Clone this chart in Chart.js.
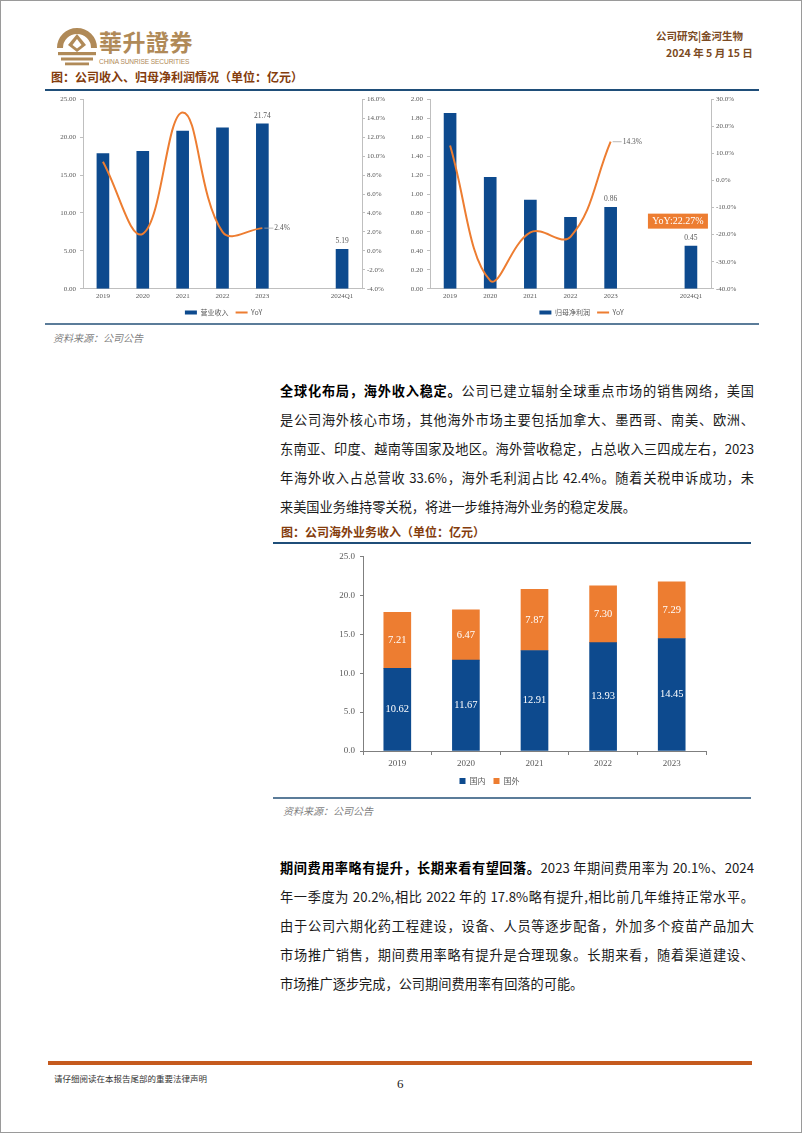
<!DOCTYPE html>
<html>
<head>
<meta charset="utf-8">
<script src="https://cdn.jsdelivr.net/npm/chart.js@4.4.1/dist/chart.umd.min.js"></script>
<style>
  html,body{margin:0;padding:0;background:#fff;}
  body{width:802px;height:1133px;position:relative;overflow:hidden;box-sizing:border-box;border:1px solid #9a9a9a;font-family:"Noto Sans CJK SC","Noto Sans",sans-serif;}
  .abs{position:absolute;}
  .hdr{color:#7b4a22;font-weight:bold;font-size:10.5px;white-space:nowrap;}
  .ttl{color:#843c0c;font-weight:bold;font-size:12px;white-space:nowrap;}
  .bline{height:2px;background:#1f4e79;}
  .gline{height:2px;background:#5b7c99;}
  .src{color:#7f7f7f;font-style:italic;font-size:10px;white-space:nowrap;}
  .para{width:474px;font-size:13.2px;line-height:29px;color:#1a1a1a;}
  .para div{text-align:justify;text-align-last:justify;height:29px;white-space:nowrap;}
  .para div.last{text-align-last:left;}
  .para b{font-weight:bold;color:#000;}
  .chartbox{position:absolute;}
</style>
</head>
<body>
<!-- header logo -->
<svg class="abs" style="left:54px;top:20px" width="44" height="46" viewBox="0 0 44 46">
  <path d="M5,27 A17,17 0 1 1 39,27" fill="none" stroke="#b08a58" stroke-width="6"/>
  <path d="M22,13 L31,24 L22,31 L13,24 Z" fill="#b08a58"/>
  <path d="M22,18 L26.5,24 L22,27.5 L17.5,24 Z" fill="#fff"/>
  <rect x="3" y="31" width="38" height="3.2" fill="#b08a58"/>
  <rect x="6" y="36.5" width="32" height="3" fill="#b08a58"/>
  <rect x="10" y="41.5" width="24" height="2.8" fill="#b08a58"/>
</svg>
<div class="abs" style="left:98px;top:25px;color:#b08a58;font-family:'Noto Sans CJK TC';font-weight:bold;font-size:23px;letter-spacing:0.5px;white-space:nowrap;line-height:30px;">華升證券</div>
<div class="abs" style="left:98px;top:57px;color:#b08a58;font-family:'Liberation Sans';font-size:6.6px;white-space:nowrap;letter-spacing:-0.1px;">CHINA SUNRISE SECURITIES</div>
<div class="abs hdr" style="left:655px;top:27px;">公司研究|金河生物</div>
<div class="abs hdr" style="left:665px;top:44px;">2024 年 5 月 15 日</div>

<div class="abs ttl" style="left:50px;top:67px;">图：公司收入、归母净利润情况（单位：亿元）</div>
<div class="abs bline" style="left:44px;top:88px;width:714px;"></div>

<div class="chartbox" style="left:45px;top:90px;width:355px;height:235px;"><canvas id="c1" width="355" height="235"></canvas></div>
<div class="chartbox" style="left:404px;top:90px;width:353px;height:235px;"><canvas id="c2" width="353" height="235"></canvas></div>

<div class="abs gline" style="left:44px;top:322px;width:714px;"></div>
<div class="abs src" style="left:52px;top:329px;">资料来源：公司公告</div>

<div class="abs para" style="left:279px;top:374.5px;">
  <div><b>全球化布局，海外收入稳定。</b>公司已建立辐射全球重点市场的销售网络，美国</div>
  <div>是公司海外核心市场，其他海外市场主要包括加拿大、墨西哥、南美、欧洲、</div>
  <div>东南亚、印度、越南等国家及地区。海外营收稳定，占总收入三四成左右，2023</div>
  <div>年海外收入占总营收 33.6%，海外毛利润占比 42.4%。随着关税申诉成功，未</div>
  <div class="last">来美国业务维持零关税，将进一步维持海外业务的稳定发展。</div>
</div>

<div class="abs ttl" style="left:280px;top:522px;">图：公司海外业务收入（单位：亿元）</div>
<div class="abs bline" style="left:272px;top:541px;width:478px;"></div>

<div class="chartbox" style="left:272px;top:545px;width:478px;height:250px;"><canvas id="c3" width="478" height="250"></canvas></div>

<div class="abs gline" style="left:272px;top:796px;width:478px;"></div>
<div class="abs src" style="left:282px;top:802px;">资料来源：公司公告</div>

<div class="abs para" style="left:279px;top:851.5px;">
  <div><b>期间费用率略有提升，长期来看有望回落。</b>2023 年期间费用率为 20.1%、2024</div>
  <div>年一季度为 20.2%,相比 2022 年的 17.8%略有提升,相比前几年维持正常水平。</div>
  <div>由于公司六期化药工程建设，设备、人员等逐步配备，外加多个疫苗产品加大</div>
  <div>市场推广销售，期间费用率略有提升是合理现象。长期来看，随着渠道建设、</div>
  <div class="last">市场推广逐步完成，公司期间费用率有回落的可能。</div>
</div>

<div class="abs" style="left:47px;top:1060px;width:704px;height:4px;background:#c55a1e;"></div>
<div class="abs" style="left:53px;top:1071px;font-size:8.5px;color:#333;white-space:nowrap;">请仔细阅读在本报告尾部的重要法律声明</div>
<div class="abs" style="left:396px;top:1075px;font-family:'Liberation Serif';font-size:13px;color:#222;">6</div>

<script>
// ---------------- data ----------------
const topCategories = ['2019', '2020', '2021', '2022', '2023', '', '2024Q1'];
const revenue      = [17.83, 18.14, 20.78, 21.23, 21.74, null, 5.19];
const revenueYoY   = [9.4, 1.8, 14.6, 2.0, 2.4, null, null];
const netProfit    = [1.85, 1.175, 0.937, 0.755, 0.86, null, 0.45];
const netProfitYoY = [12.9, -37.0, -19.2, -20.8, 14.3, null, null];
const q1ProfitYoYText = 'YoY:22.27%';
const revenueTicksLeft  = {min: 0, max: 25, step: 5};
const revenueTicksRight = {min: -4, max: 16, step: 2};
const profitTicksLeft   = {min: 0, max: 2, step: 0.2};
const profitTicksRight  = {min: -40, max: 30, step: 10};

const stackCategories = ['2019', '2020', '2021', '2022', '2023'];
const domestic = [10.62, 11.67, 12.91, 13.93, 14.45];
const overseas = [7.21, 6.47, 7.87, 7.30, 7.29];
const stackTicks = {min: 0, max: 25, step: 5};

// ---------------- styling ----------------
const NAVY = '#0d4a8e', ORANGE = '#ed7d31', AX = '#bfbfbf', TXT = '#595959';
const SERIF = "'Liberation Serif','Times New Roman',serif";
const CJK = "'Noto Sans CJK SC',sans-serif";

const annot = {
  id: 'annot',
  afterDatasetsDraw(chart, args, o) {
    const ctx = chart.ctx;
    ctx.save();
    ctx.textBaseline = 'middle';
    (o.barLabels || []).forEach(b => {
      const el = chart.getDatasetMeta(b.ds).data[b.i];
      const v = chart.data.datasets[b.ds].data[b.i];
      ctx.font = o.font; ctx.fillStyle = o.color; ctx.textAlign = 'center';
      ctx.fillText(v.toFixed(2), el.x, el.y - 8);
    });
    (o.lineLabels || []).forEach(b => {
      const el = chart.getDatasetMeta(b.ds).data[b.i];
      const v = chart.data.datasets[b.ds].data[b.i];
      ctx.strokeStyle = '#a6a6a6'; ctx.lineWidth = 0.8;
      ctx.beginPath(); ctx.moveTo(el.x + 2, el.y); ctx.lineTo(el.x + 11, el.y); ctx.stroke();
      ctx.font = o.font; ctx.fillStyle = o.color; ctx.textAlign = 'left';
      ctx.fillText(v.toFixed(1) + '%', el.x + 12, el.y);
    });
    if (o.box) {
      const el = chart.getDatasetMeta(o.box.ds).data[o.box.i];
      const cx = el.x - 13, cy = el.y - 25, w = 60, h = 15;
      ctx.fillStyle = ORANGE; ctx.fillRect(cx - w / 2, cy - h / 2, w, h);
      ctx.font = '10px ' + SERIF; ctx.fillStyle = '#fff'; ctx.textAlign = 'center';
      ctx.fillText(o.box.text, cx, cy + 0.5);
    }
    if (o.inside) {
      chart.data.datasets.forEach((ds, di) => {
        chart.getDatasetMeta(di).data.forEach((el, i) => {
          ctx.font = o.insideFont; ctx.fillStyle = '#fff'; ctx.textAlign = 'center';
          ctx.fillText(ds.data[i].toFixed(2), el.x, (el.y + el.base) / 2);
        });
      });
    }
    ctx.restore();
  }
};

function legendLabels(chart) {
  const items = Chart.defaults.plugins.legend.labels.generateLabels(chart);
  items.forEach(it => {
    const ds = chart.data.datasets[it.datasetIndex];
    if (ds.type === 'line') { it.pointStyle = 'line'; it.strokeStyle = ORANGE; it.lineWidth = 2; }
    else { it.pointStyle = 'rect'; it.lineWidth = 0; it.fillStyle = NAVY; }
  });
  return items;
}

function topChart(id, barData, barName, lineData, tl, tr, leftW, rightW, extra) {
  return new Chart(document.getElementById(id), {
    data: {
      labels: topCategories,
      datasets: [
        {type: 'bar', label: barName, data: barData, backgroundColor: NAVY, barThickness: 12, yAxisID: 'y', order: 2},
        {type: 'line', label: 'YoY', data: lineData, borderColor: ORANGE, backgroundColor: ORANGE, borderWidth: 2,
         pointRadius: 0, tension: 0.4, yAxisID: 'y1', order: 1, spanGaps: false}
      ]
    },
    options: {
      responsive: false, animation: false, devicePixelRatio: 1,
      layout: {padding: {top: 7, right: 0, bottom: 0, left: 0}},
      scales: {
        x: {
          grid: {display: false, drawTicks: false, tickLength: 0}, border: {color: AX},
          ticks: {font: {family: SERIF, size: 7}, color: TXT, padding: 3.5, maxRotation: 0, autoSkip: false},
          afterFit(s) { s.height = 13; }
        },
        y: {
          position: 'left', min: tl.min, max: tl.max,
          grid: {drawOnChartArea: false, tickLength: 3, color: AX}, border: {color: AX},
          ticks: {stepSize: tl.step, font: {family: SERIF, size: 7}, color: TXT, padding: 4, callback: v => Number(v).toFixed(2)},
          afterFit(s) { s.width = leftW; }
        },
        y1: {
          position: 'right', min: tr.min, max: tr.max,
          grid: {drawOnChartArea: false, tickLength: 3, color: AX}, border: {color: AX},
          ticks: {stepSize: tr.step, font: {family: SERIF, size: 7}, color: TXT, padding: 2, callback: v => Number(v).toFixed(1) + '%'},
          afterFit(s) { s.width = rightW; }
        }
      },
      plugins: {
        tooltip: {enabled: false},
        legend: {
          position: 'bottom',
          labels: {usePointStyle: true, pointStyleWidth: 12, boxHeight: 4, padding: 7.2,
                   font: {family: CJK, size: 7}, color: TXT, generateLabels: legendLabels,
                   sort: (a, b) => a.datasetIndex - b.datasetIndex}
        },
        annot: Object.assign({font: '7.5px ' + SERIF, color: TXT,
          barLabels: [{ds: 0, i: 4}, {ds: 0, i: 6}], lineLabels: [{ds: 1, i: 4}]}, extra || {})
      }
    },
    plugins: [annot]
  });
}

topChart('c1', revenue, '营业收入', revenueYoY, revenueTicksLeft, revenueTicksRight, 37, 39);
topChart('c2', netProfit, '归母净利润', netProfitYoY, profitTicksLeft, profitTicksRight, 25, 47,
  {box: {ds: 0, i: 6, text: q1ProfitYoYText}});

new Chart(document.getElementById('c3'), {
  type: 'bar',
  data: {
    labels: stackCategories,
    datasets: [
      {label: '国内', data: domestic, backgroundColor: '#0d4a8e', barThickness: 27},
      {label: '国外', data: overseas, backgroundColor: '#ed7d31', barThickness: 27}
    ]
  },
  options: {
    responsive: false, animation: false, devicePixelRatio: 1,
    layout: {padding: {top: 8.3, right: 45, bottom: 1, left: 0}},
    scales: {
      x: {
        stacked: true,
        grid: {drawOnChartArea: false, offset: true, tickLength: 4, color: '#7f7f7f'}, border: {color: '#7f7f7f'},
        ticks: {font: {family: SERIF, size: 9}, color: TXT, padding: 3, maxRotation: 0},
        afterFit(s) { s.height = 18; }
      },
      y: {
        stacked: true, min: stackTicks.min, max: stackTicks.max,
        grid: {drawOnChartArea: false, tickLength: 3, color: '#7f7f7f'}, border: {color: '#7f7f7f'},
        ticks: {stepSize: stackTicks.step, font: {family: SERIF, size: 9}, color: TXT, padding: 5, callback: v => Number(v).toFixed(1)},
        afterFit(s) { s.width = 90; }
      }
    },
    plugins: {
      tooltip: {enabled: false},
      legend: {
        position: 'bottom',
        labels: {boxWidth: 6, boxHeight: 6, padding: 8, font: {family: CJK, size: 8}, color: TXT}
      },
      annot: {inside: true, insideFont: '10.5px ' + SERIF}
    }
  },
  plugins: [annot]
});
</script>
</body>
</html>
